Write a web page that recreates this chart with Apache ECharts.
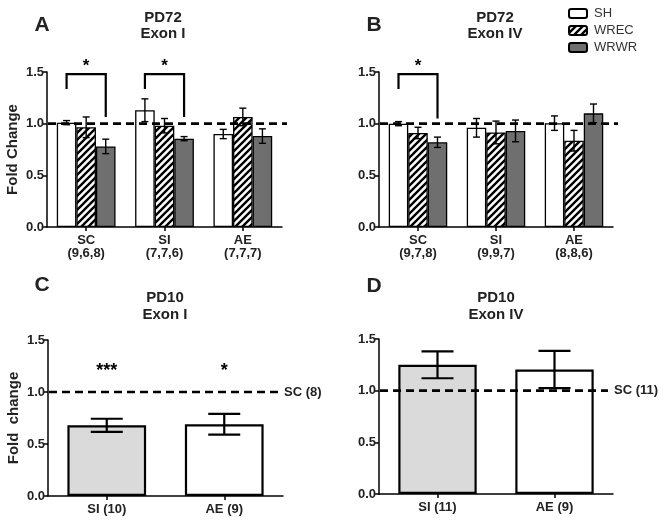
<!DOCTYPE html>
<html><head><meta charset="utf-8">
<script src="https://cdn.jsdelivr.net/npm/echarts@6/dist/echarts.min.js"></script>
<style>html,body{margin:0;padding:0;background:#fff}#c{width:663px;height:521px}</style>
</head><body><div id="c"></div>
<script>
// ---------- data ----------
const catsA = ['SC\n(9,6,8)', 'SI\n(7,7,6)', 'AE\n(7,7,7)'];
const catsB = ['SC\n(9,7,8)', 'SI\n(9,9,7)', 'AE\n(8,8,6)'];
const groupNames = ['SH', 'WREC', 'WRWR'];
const A_SH = [1.01, 1.13, 0.90];
const A_SH_err = [0.02, 0.11, 0.045];
const A_WREC = [0.965, 0.98, 1.065];
const A_WREC_err = [0.10, 0.07, 0.085];
const A_WRWR = [0.78, 0.855, 0.88];
const A_WRWR_err = [0.07, 0.02, 0.07];
const B_SH = [1.0, 0.96, 1.005];
const B_SH_err = [0.02, 0.09, 0.07];
const B_WREC = [0.91, 0.915, 0.835];
const B_WREC_err = [0.055, 0.11, 0.10];
const B_WRWR = [0.82, 0.93, 1.10];
const B_WRWR_err = [0.05, 0.105, 0.09];
const catsC = ['SI (10)', 'AE (9)'];
const C_vals = [0.68, 0.69];
const C_err = [0.063, 0.10];
const catsD = ['SI (11)', 'AE (9)'];
const D_vals = [1.25, 1.205];
const D_err = [0.13, 0.18];
const refC = 'SC (8)';
const refD = 'SC (11)';
const C_stars = [['***', 1.24], ['*', 1.24]];
// bracket: category, top, left-leg bottom, right-leg bottom, star
const bracketsA = [[0, 1.48, 1.335, 1.065, '*'], [1, 1.48, 1.335, 1.065, '*']];
const bracketsB = [[0, 1.48, 1.335, 1.05, '*']];

// ---------- styles ----------
const FONT = "'Liberation Sans', Arial, sans-serif";
function hatch() {
  const s = 7, cv = document.createElement('canvas');
  cv.width = s; cv.height = s;
  const g = cv.getContext('2d');
  g.fillStyle = '#fff'; g.fillRect(0, 0, s, s);
  g.strokeStyle = '#000'; g.lineWidth = 2.4;
  g.beginPath();
  g.moveTo(-1, s + 1); g.lineTo(s + 1, -1);
  g.moveTo(-1, 1); g.lineTo(1, -1);
  g.moveTo(s - 1, s + 1); g.lineTo(s + 1, s - 1);
  g.stroke();
  return cv;
}
const fills = ['#ffffff', { image: hatch(), repeat: 'repeat' }, '#6f6f6f'];

const grids = [
  { left: 47, top: 72, width: 235, height: 155 },
  { left: 379, top: 72, width: 234, height: 155 },
  { left: 48, top: 340, width: 235, height: 156 },
  { left: 379, top: 339, width: 234, height: 155 }
];

function yAxis(i, name) {
  return {
    type: 'value', gridIndex: i, min: 0, max: 1.5, interval: 0.5,
    name: name || '', nameLocation: 'middle', nameGap: 27, nameRotate: 90,
    nameTextStyle: { fontFamily: FONT, fontWeight: 'bold', fontSize: 15, color: '#222' },
    axisLine: { show: true, lineStyle: { color: '#000', width: 1.5 } },
    axisTick: { show: true, length: 4, lineStyle: { color: '#000', width: 1.5 } },
    axisLabel: { fontFamily: FONT, fontWeight: 'bold', fontSize: 13, color: '#222', margin: 3,
      formatter: v => v.toFixed(1) },
    splitLine: { show: false }
  };
}
function xAxis(i, cats) {
  return {
    type: 'category', gridIndex: i, data: cats,
    axisLine: { show: true, lineStyle: { color: '#000', width: 1.5 } },
    axisTick: { show: true, alignWithLabel: true, length: 4, lineStyle: { color: '#000', width: 1.5 } },
    axisLabel: { fontFamily: FONT, fontWeight: 'bold', fontSize: 13, color: '#222', margin: 7, lineHeight: 13, interval: 0 }
  };
}

function errRender(k, n, gap, capHalf, lw) {
  return function (params, api) {
    const cat = api.value(0), v = api.value(1), e = api.value(2);
    const band = api.size([1, 0])[0];
    const bw = band * (1 - gap) / n;
    const cx = api.coord([cat, v])[0] + (k - (n - 1) / 2) * bw;
    const yH = api.coord([cat, v + e])[1], yL = api.coord([cat, v - e])[1];
    const st = { stroke: '#000', lineWidth: lw };
    return { type: 'group', children: [
      { type: 'line', shape: { x1: cx, y1: yH, x2: cx, y2: yL }, style: st },
      { type: 'line', shape: { x1: cx - capHalf, y1: yH, x2: cx + capHalf, y2: yH }, style: st },
      { type: 'line', shape: { x1: cx - capHalf, y1: yL, x2: cx + capHalf, y2: yL }, style: st }
    ] };
  };
}

function refLine(i, label, endPad) {
  return {
    type: 'custom', xAxisIndex: i, yAxisIndex: i, z: 20, silent: true,
    data: [[0, 1.0]],
    renderItem: function (params, api) {
      const cs = params.coordSys;
      const y = api.coord([0, api.value(1)])[1];
      const x2 = cs.x + cs.width + endPad;
      const ch = [{ type: 'line', shape: { x1: cs.x + 1, y1: y, x2: x2, y2: y },
        style: { stroke: '#000', lineWidth: 2.6, lineDash: [8, 5] } }];
      if (label) ch.push({ type: 'text', x: cs.x + cs.width + 1, y: y,
        style: { text: label, font: 'bold 13px ' + FONT, fill: '#222', textVerticalAlign: 'middle', textAlign: 'left' } });
      return { type: 'group', children: ch };
    }
  };
}

function bracketSeries(i, brs) {
  return {
    type: 'custom', xAxisIndex: i, yAxisIndex: i, z: 20, silent: true, clip: false,
    data: brs,
    renderItem: function (params, api) {
      const cat = api.value(0);
      const band = api.size([1, 0])[0];
      const bw = band * 0.75 / 3;
      const c = api.coord([cat, api.value(1)]);
      const xl = c[0] - bw, xr = c[0] + bw;
      const yt = c[1];
      const yl = api.coord([cat, api.value(2)])[1];
      const yr = api.coord([cat, api.value(3)])[1];
      return { type: 'group', children: [
        { type: 'polyline', shape: { points: [[xl, yl], [xl, yt], [xr, yt], [xr, yr]] },
          style: { stroke: '#000', lineWidth: 2.2, fill: null } },
        { type: 'text', x: c[0], y: yt - 8,
          style: { text: brs[params.dataIndex][4], font: 'bold 17px ' + FONT, fill: '#000', textAlign: 'center', textVerticalAlign: 'middle' } }
      ] };
    }
  };
}

const series = [];
function groupPanel(i, vals, errs) {
  vals.forEach((vs, k) => {
    series.push({
      type: 'bar', name: groupNames[k], xAxisIndex: i, yAxisIndex: i,
      data: vs, barGap: '0%', barCategoryGap: '25%',
      itemStyle: { color: fills[k], borderColor: '#000', borderWidth: 1.3 },
      emphasis: { disabled: true }
    });
  });
  vals.forEach((vs, k) => {
    series.push({
      type: 'custom', xAxisIndex: i, yAxisIndex: i, z: 10, silent: true,
      data: vs.map((v, j) => [j, v, errs[k][j]]),
      renderItem: errRender(k, 3, 0.25, 3.5, 1.4)
    });
  });
}
groupPanel(0, [A_SH, A_WREC, A_WRWR], [A_SH_err, A_WREC_err, A_WRWR_err]);
groupPanel(1, [B_SH, B_WREC, B_WRWR], [B_SH_err, B_WREC_err, B_WRWR_err]);
series.push(refLine(0, '', 5), refLine(1, '', 5));
series.push(bracketSeries(0, bracketsA), bracketSeries(1, bracketsB));

function singlePanel(i, vals, errs, label) {
  series.push({
    type: 'bar', xAxisIndex: i, yAxisIndex: i, barCategoryGap: '33%',
    data: vals.map((v, j) => ({ value: v, itemStyle: { color: j === 0 ? '#dadada' : '#ffffff' } })),
    itemStyle: { borderColor: '#000', borderWidth: 2.2 },
    emphasis: { disabled: true }
  });
  series.push({
    type: 'custom', xAxisIndex: i, yAxisIndex: i, z: 10, silent: true,
    data: vals.map((v, j) => [j, v, errs[j]]),
    renderItem: errRender(0, 1, 0.33, 16, 2.2)
  });
  series.push(refLine(i, label, -5));
}
singlePanel(2, C_vals, C_err, refC);
singlePanel(3, D_vals, D_err, refD);
series.push({
  type: 'custom', xAxisIndex: 2, yAxisIndex: 2, z: 20, silent: true,
  data: C_stars.map((s, j) => [j, s[1]]),
  renderItem: function (params, api) {
    const p = api.coord([api.value(0), api.value(1)]);
    return { type: 'text', x: p[0], y: p[1] + 4,
      style: { text: C_stars[params.dataIndex][0], font: 'bold 18px ' + FONT, fill: '#000', textAlign: 'center', textVerticalAlign: 'middle' } };
  }
});

function txt(x, y, t, size) {
  return { type: 'text', x: x, y: y,
    style: { text: t, font: 'bold ' + size + 'px ' + FONT, fill: '#222', textAlign: 'center', textVerticalAlign: 'middle' } };
}

const chart = echarts.init(document.getElementById('c'), null, { renderer: 'canvas' });
chart.setOption({
  animation: false,
  backgroundColor: '#fff',
  grid: grids,
  xAxis: [xAxis(0, catsA), xAxis(1, catsB), xAxis(2, catsC), xAxis(3, catsD)],
  yAxis: [yAxis(0, 'Fold Change'), yAxis(1), yAxis(2, 'Fold  change'), yAxis(3)],
  legend: {
    data: groupNames, orient: 'vertical', left: 563, top: 2,
    itemWidth: 18, itemHeight: 9, itemGap: 4,
    textStyle: { fontFamily: FONT, fontSize: 13, color: '#333', padding: [0, 0, 0, 2] },
    selectedMode: false
  },
  series: series,
  graphic: [
    txt(42, 25, 'A', 21), txt(374, 25, 'B', 21), txt(42, 285, 'C', 21), txt(374, 286, 'D', 21),
    txt(163, 18, 'PD72', 15), txt(163, 34, 'Exon I', 15),
    txt(495, 18, 'PD72', 15), txt(495, 34, 'Exon IV', 15),
    txt(165, 298, 'PD10', 15), txt(165, 315, 'Exon I', 15),
    txt(496, 298, 'PD10', 15), txt(496, 315, 'Exon IV', 15)
  ]
});
</script></body></html>
